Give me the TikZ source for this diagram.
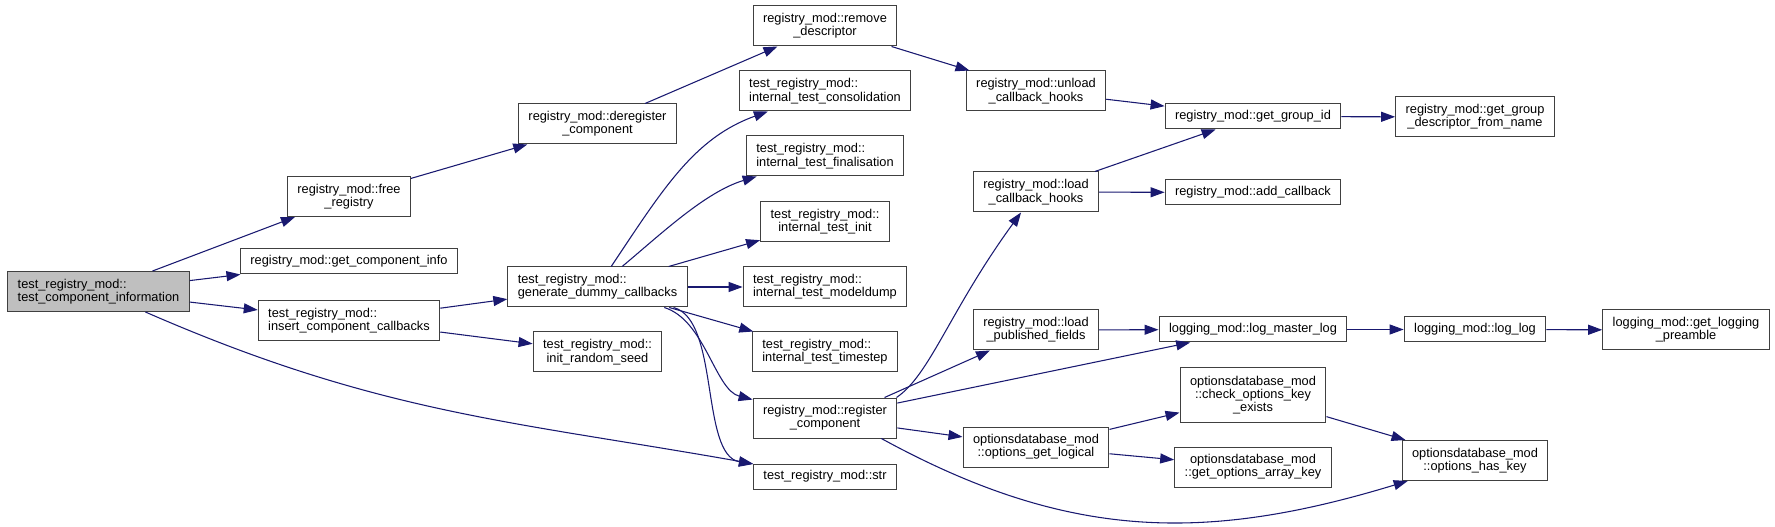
\documentclass[tikz,border=0pt]{standalone}
\usepackage{fontspec}
\setmainfont{Liberation Sans}
\usepackage{tikz}
\usetikzlibrary{arrows.meta}
\definecolor{dxblue}{RGB}{25,25,112}
\definecolor{dxedge}{RGB}{64,64,64}
\definecolor{dxfill}{RGB}{191,191,191}

\begin{document}
\begin{tikzpicture}[
  x=0.75pt, y=-0.75pt,
  every node/.style={font=\fontsize{9.6}{10}\selectfont},
  func/.style={draw=dxedge, line width=0.75pt, fill=white, align=center,
    inner xsep=7.5pt, inner ysep=1pt, minimum height=18.75pt},
  func2/.style={func, minimum height=30pt},
  func3/.style={func, minimum height=40.5pt},
  lfunc/.style={func2, align=left},
  rootfunc/.style={lfunc, fill=dxfill},
  call/.style={draw=dxblue, line width=0.8pt, -{Triangle[length=10.5pt,width=7.5pt]}}
]
  \useasboundingbox (0,0) rectangle (1775,527);
  \def\colA{98.5}\def\colB{349}\def\colC{597.5}\def\colD{825}
  \def\colE{1036}\def\colF{1253}\def\colG{1475}\def\colH{1686}

  % caller
  \node[rootfunc] (root) at (\colA,291.5) {test\_registry\_mod::\\test\_component\_information};

  % first level
  \node[func2] (free) at (\colB,196.5) {registry\_mod::free\\\_registry};
  \node[func] (info) at (\colB,261.5) {registry\_mod::get\_component\_info};
  \node[lfunc] (ins) at (\colB,320.5) {test\_registry\_mod::\\insert\_component\_callbacks};

  % second level
  \node[func2] (dereg) at (\colC,124) {registry\_mod::deregister\\\_component};
  \node[lfunc] (gdc) at (\colC,287) {test\_registry\_mod::\\generate\_dummy\_callbacks};
  \node[func2] (seed) at (\colC,352) {test\_registry\_mod::\\init\_random\_seed};

  % third level
  \node[func2] (rmdesc) at (\colD,26) {registry\_mod::remove\\\_descriptor};
  \node[lfunc] (consol) at (\colD,91) {test\_registry\_mod::\\internal\_test\_consolidation};
  \node[lfunc] (final) at (\colD,156) {test\_registry\_mod::\\internal\_test\_finalisation};
  \node[func2] (tinit) at (\colD,221.5) {test\_registry\_mod::\\internal\_test\_init};
  \node[lfunc] (mdump) at (\colD,287) {test\_registry\_mod::\\internal\_test\_modeldump};
  \node[lfunc] (tstep) at (\colD,352) {test\_registry\_mod::\\internal\_test\_timestep};
  \node[func2] (reg) at (\colD,418) {registry\_mod::register\\\_component};
  \node[func] (str) at (\colD,476.5) {test\_registry\_mod::str};

  % fourth level
  \node[func2] (unload) at (\colE,91) {registry\_mod::unload\\\_callback\_hooks};
  \node[func2] (loadcb) at (\colE,192) {registry\_mod::load\\\_callback\_hooks};
  \node[func2] (loadpf) at (\colE,330) {registry\_mod::load\\\_published\_fields};
  \node[func2] (getlog) at (\colE,447) {optionsdatabase\_mod\\::options\_get\_logical};

  % fifth level
  \node[func] (grpid) at (\colF,116.5) {registry\_mod::get\_group\_id};
  \node[func] (addcb) at (\colF,192.5) {registry\_mod::add\_callback};
  \node[func] (master) at (\colF,329.5) {logging\_mod::log\_master\_log};
  \node[func3] (chkkey) at (\colF,395) {optionsdatabase\_mod\\::check\_options\_key\\\_exists};
  \node[func2] (arrkey) at (\colF,467) {optionsdatabase\_mod\\::get\_options\_array\_key};

  % last levels
  \node[func2] (grpdesc) at (\colG,117) {registry\_mod::get\_group\\\_descriptor\_from\_name};
  \node[func] (loglog) at (\colG,329.5) {logging\_mod::log\_log};
  \node[func2] (haskey) at (\colG,460.5) {optionsdatabase\_mod\\::options\_has\_key};
  \node[func2] (preamble) at (\colH,330) {logging\_mod::get\_logging\\\_preamble};

  % calls
  \draw[call] (root) -- (free);
  \draw[call] (root) -- (info);
  \draw[call] (root) -- (ins);
  \draw[call] (root) .. controls (379,414) and (512,421) .. (str);
  \draw[call] (free) -- (dereg);
  \draw[call] (dereg) -- (rmdesc);
  \draw[call] (rmdesc) -- (unload);
  \draw[call] (unload) -- (grpid);
  \draw[call] (grpid) -- (grpdesc);
  \draw[call] (ins) -- (gdc);
  \draw[call] (ins) -- (seed);
  \draw[call] (gdc) .. controls (663,189) and (694,138) .. (consol);
  \draw[call] (gdc) .. controls (660,235) and (705,192) .. (final);
  \draw[call] (gdc) -- (tinit);
  \draw[call] (gdc) -- (mdump);
  \draw[call] (gdc) -- (tstep);
  \draw[call] (gdc) .. controls (705,320) and (715,390) .. (reg);
  \draw[call] (gdc) .. controls (720,320) and (700,455) .. (str);
  \draw[call] (reg.16) .. controls (930,375) and (950,310) .. (loadcb);
  \draw[call] (reg.19) -- (loadpf);
  \draw[call] (reg) -- (master);
  \draw[call] (reg) -- (getlog);
  \draw[call] (reg.-20) .. controls (1067,540) and (1204,543) .. (haskey);
  \draw[call] (loadcb) -- (grpid);
  \draw[call] (loadcb) -- (addcb);
  \draw[call] (loadpf) -- (master);
  \draw[call] (master) -- (loglog);
  \draw[call] (loglog) -- (preamble);
  \draw[call] (getlog) -- (chkkey);
  \draw[call] (getlog) -- (arrkey);
  \draw[call] (chkkey) -- (haskey);
\end{tikzpicture}
\end{document}
